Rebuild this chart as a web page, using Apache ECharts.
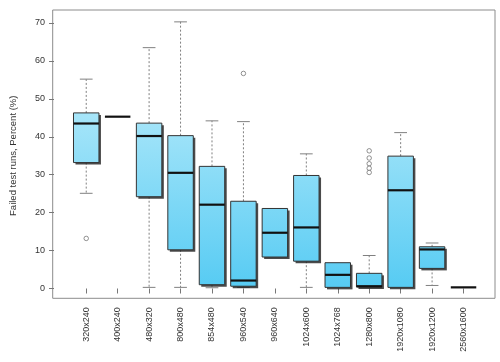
<!DOCTYPE html>
<html>
<head>
<meta charset="utf-8">
<script src="https://cdn.jsdelivr.net/npm/echarts@6/dist/echarts.min.js"></script>
<style>
html,body{margin:0;padding:0;background:#fff;}
#chart{width:500px;height:362px;}
</style>
</head>
<body>
<div id="chart"></div>
<script>
const categories = ['320x240','400x240','480x320','800x480','854x480','960x540','960x640','1024x600','1024x768','1280x800','1920x1080','1920x1200','2560x1600'];
const lowerWhisker = [25.1, 45.3, 0.3, 0.3, 0.2, 0.3, 8.3, 0.3, 0.3, 0.4, 0.3, 0.8, 0.3];
const q1Values     = [33.2, 45.3, 24.2, 10.2, 1.0, 0.6, 8.3, 7.2, 0.3, 0.4, 0.3, 5.3, 0.3];
const medianValues = [43.5, 45.3, 40.2, 30.5, 22.1, 2.1, 14.7, 16.1, 3.6, 0.6, 25.9, 10.3, 0.3];
const q3Values     = [46.3, 45.3, 43.6, 40.3, 32.2, 23.0, 21.1, 29.8, 6.8, 4.0, 34.9, 11.0, 0.3];
const upperWhisker = [55.2, 45.3, 63.5, 70.3, 44.2, 44.0, 21.1, 35.5, 6.8, 8.7, 41.1, 12.0, 0.3];
const outlierCategory = [0, 5, 9, 9, 9, 9, 9];
const outlierValues   = [13.2, 56.7, 36.3, 34.4, 32.9, 31.7, 30.6];
const yTicks = [0, 10, 20, 30, 40, 50, 60, 70];
const yTitle = 'Failed test runs, Percent (%)';

const boxData = categories.map((c, i) => [i, lowerWhisker[i], q1Values[i], medianValues[i], q3Values[i], upperWhisker[i]]);
const outlierData = outlierCategory.map((c, i) => [c, outlierValues[i]]);

const FONT = '"Liberation Sans", Arial, Helvetica, sans-serif';
const boxFill = {
  type: 'linear', x: 0, y: 10, x2: 0, y2: 289, global: true,
  colorStops: [
    {offset: 0, color: '#d6f5fd'},
    {offset: 1, color: '#56cbf3'}
  ]
};

function renderItem(params, api) {
  const i = api.value(0);
  const lw = api.value(1), q1 = api.value(2), med = api.value(3), q3 = api.value(4), uw = api.value(5);
  const band = api.size([1, 0])[0];
  const bw = band * 0.81;
  const half = bw / 2, capHalf = bw / 4;
  const cx = api.coord([i, med])[0];
  const y = v => api.coord([i, v])[1];
  const children = [];
  const whiskerStyle = {stroke: '#808080', lineWidth: 1, lineDash: [2, 2]};
  const capStyle = {stroke: '#808080', lineWidth: 1};
  if (uw > q3) {
    children.push({type: 'line', shape: {x1: cx, y1: y(q3), x2: cx, y2: y(uw)}, style: whiskerStyle});
    children.push({type: 'line', shape: {x1: cx - capHalf, y1: y(uw), x2: cx + capHalf, y2: y(uw)}, style: capStyle});
  }
  if (lw < q1) {
    children.push({type: 'line', shape: {x1: cx, y1: y(q1), x2: cx, y2: y(lw)}, style: whiskerStyle});
    children.push({type: 'line', shape: {x1: cx - capHalf, y1: y(lw), x2: cx + capHalf, y2: y(lw)}, style: capStyle});
  }
  if (q3 - q1 > 0.05) {
    const top = y(q3), bot = y(q1);
    children.push({type: 'rect', shape: {x: cx - half + 2, y: top + 2, width: bw, height: bot - top},
      style: {fill: 'rgba(30,30,30,0.8)'}});
    children.push({type: 'rect', shape: {x: cx - half, y: top, width: bw, height: bot - top},
      style: {fill: boxFill, stroke: '#333', lineWidth: 1}});
  }
  children.push({type: 'line', shape: {x1: cx - half, y1: y(med), x2: cx + half, y2: y(med)},
    style: {stroke: '#111', lineWidth: 2.2}});
  return {type: 'group', children: children};
}

const chart = echarts.init(document.getElementById('chart'), null, {renderer: 'canvas'});
chart.setOption({
  animation: false,
  backgroundColor: '#fff',
  textStyle: {fontFamily: FONT},
  grid: [
    {left: 52.7, right: 5, top: 10, bottom: 63.7, show: true, borderColor: '#8c8c8c', borderWidth: 1, backgroundColor: 'transparent'},
    {left: 69.23, right: 20.75, top: 23, bottom: 73.5}
  ],
  xAxis: [
    {type: 'value', gridIndex: 0, show: false, min: 0, max: 1},
    {type: 'category', gridIndex: 1, data: categories, boundaryGap: true, offset: 9.8,
      axisLine: {show: false},
      axisTick: {show: true, alignWithLabel: true, length: 5, lineStyle: {color: '#777'}},
      axisLabel: {rotate: 90, interval: 0, margin: 9, fontSize: 9, color: '#333', fontFamily: FONT},
      splitLine: {show: false}}
  ],
  yAxis: [
    {type: 'value', gridIndex: 0, show: false, min: 0, max: 1},
    {type: 'value', gridIndex: 1, min: yTicks[0], max: yTicks[yTicks.length - 1], interval: 10, offset: 16.5,
      axisLine: {show: false},
      axisTick: {show: true, length: 5, lineStyle: {color: '#777'}},
      axisLabel: {fontSize: 9, color: '#333', margin: 9, fontFamily: FONT},
      splitLine: {show: false},
      name: yTitle, nameLocation: 'middle', nameGap: 36,
      nameTextStyle: {fontSize: 9.5, color: '#333', fontFamily: FONT}}
  ],
  series: [
    {type: 'custom', xAxisIndex: 1, yAxisIndex: 1, data: boxData, renderItem: renderItem,
      encode: {x: 0, y: [1, 2, 3, 4, 5]}, clip: false, z: 2},
    {type: 'scatter', xAxisIndex: 1, yAxisIndex: 1, data: outlierData, symbol: 'circle', symbolSize: 4.5, z: 3,
      itemStyle: {color: '#fff', borderColor: '#555', borderWidth: 0.8}}
  ]
});
</script>
</body>
</html>
